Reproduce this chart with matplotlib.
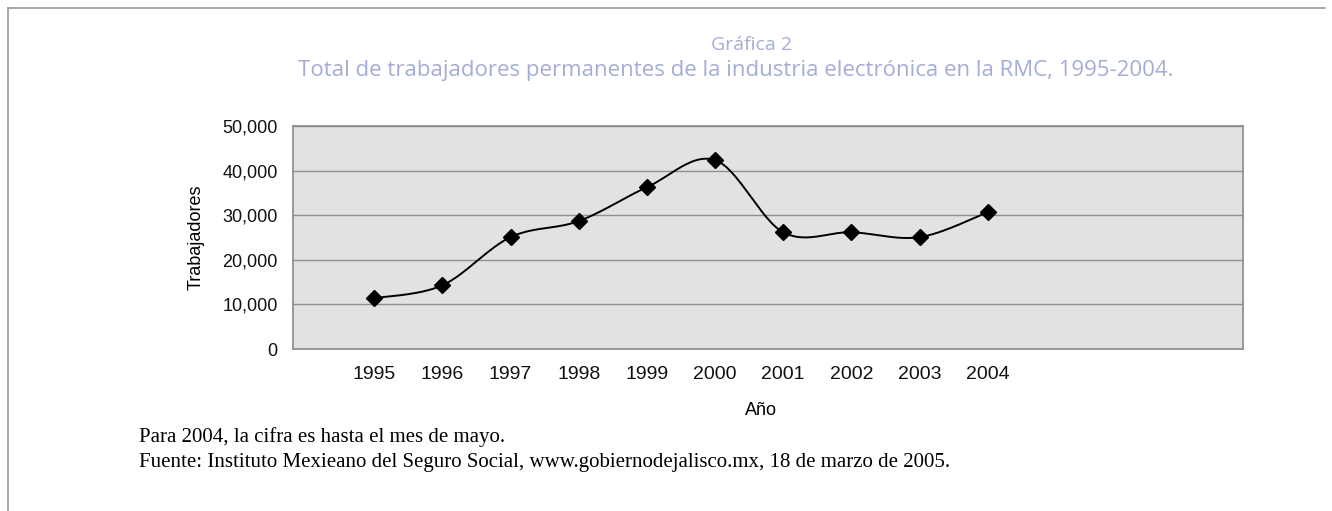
import numpy as np
import matplotlib.pyplot as plt
from matplotlib.lines import Line2D
from matplotlib.ticker import FuncFormatter

years = [1995, 1996, 1997, 1998, 1999, 2000, 2001, 2002, 2003, 2004]
workers = [11400, 14300, 25100, 28700, 36300, 42400, 26200, 26200, 25100, 30700]
y_ticks = [0, 10000, 20000, 30000, 40000, 50000]


def smooth(x, y, n=30, t=0.5):
    # cardinal spline through the points, like the excel smoothed line
    x = np.asarray(x, float)
    y = np.asarray(y, float)
    px = np.concatenate([[x[0]], x, [x[-1]]])
    py = np.concatenate([[y[0]], y, [y[-1]]])
    xs, ys = [], []
    for i in range(1, len(px) - 2):
        s = np.linspace(0, 1, n)
        m1x, m1y = t * (px[i + 1] - px[i - 1]), t * (py[i + 1] - py[i - 1])
        m2x, m2y = t * (px[i + 2] - px[i]), t * (py[i + 2] - py[i])
        h1 = 2 * s**3 - 3 * s**2 + 1
        h2 = -2 * s**3 + 3 * s**2
        h3 = s**3 - 2 * s**2 + s
        h4 = s**3 - s**2
        xs.extend(h1 * px[i] + h2 * px[i + 1] + h3 * m1x + h4 * m2x)
        ys.extend(h1 * py[i] + h2 * py[i + 1] + h3 * m1y + h4 * m2y)
    return xs, ys


fig = plt.figure(figsize=(13.32, 5.11), dpi=100)
fig.patch.set_facecolor('white')

ax = fig.add_axes([0.220, 0.317, 0.713, 0.436])
ax.set_facecolor('#e2e2e5')

sx, sy = smooth(years, workers)
ax.plot(sx, sy, color='black', lw=1.4, zorder=3)
ax.plot(years, workers, 'D', color='black', ms=8, zorder=4)

ax.set_xlim(1993.81, 2007.74)
ax.set_ylim(0, 50000)
ax.set_yticks(y_ticks)
ax.yaxis.set_major_formatter(FuncFormatter(lambda v, p: "{:,}".format(int(v))))
ax.set_xticks(years)
ax.set_xticklabels([str(y) for y in years], family=['Liberation Sans Narrow', 'Liberation Sans'])
ax.grid(axis='y', color='#8f8f8f', lw=1.0)
ax.set_axisbelow(True)
ax.tick_params(axis='y', length=0, pad=11, labelsize=13, labelcolor='#111111')
ax.tick_params(axis='x', length=0, pad=12, labelsize=14, labelcolor='#111111')
for lab in ax.get_yticklabels():
    lab.set_family('Liberation Sans')
for s in ax.spines.values():
    s.set_color('#8a8a8a')
    s.set_linewidth(1.2)

ax.set_ylabel("Trabajadores", family='Liberation Sans', fontsize=13, labelpad=13)
fig.text(0.571, 0.197, "Año", ha='center', va='center', family='Liberation Sans', fontsize=13)

title_col = '#a4acd8'
fig.text(0.564, 0.912, "Gráfica 2", ha='center', va='center', color=title_col,
         family='Open Sans', fontsize=14)
fig.text(0.552, 0.862, "Total de trabajadores permanentes de la industria electrónica en la RMC, 1995-2004.",
         ha='center', va='center', color=title_col, family='Open Sans', fontsize=16)

fig.text(0.104, 0.145, "Para 2004, la cifra es hasta el mes de mayo.",
         ha='left', va='center', family='Liberation Serif', fontsize=15)
fig.text(0.104, 0.094, "Fuente: Instituto Mexieano del Seguro Social, www.gobiernodejalisco.mx, 18 de marzo de 2005.",
         ha='left', va='center', family='Liberation Serif', fontsize=15)

# scan frame lines
fig.add_artist(Line2D([0.006, 0.995], [0.985, 0.985], color='#9a9a9a', lw=1.2))
fig.add_artist(Line2D([0.006, 0.006], [0.0, 0.985], color='#9a9a9a', lw=1.2))

fig.savefig("out.png", dpi=100, facecolor='white')
